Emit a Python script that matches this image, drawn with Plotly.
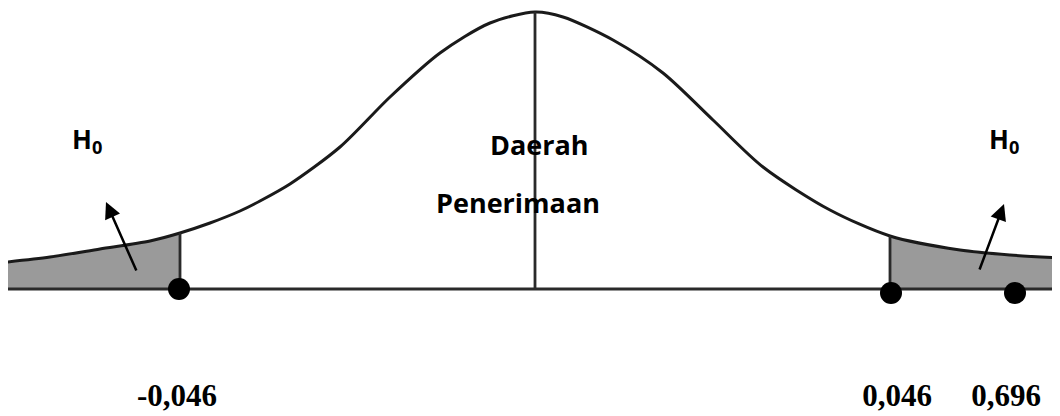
import plotly.graph_objects as go

# curve: horizontal position and height above the baseline
curve_x = [7, 50, 100, 150, 180, 210, 240, 260, 290, 340, 390, 440, 490, 535,
           563, 613, 663, 713, 763, 830, 890, 960, 1010, 1060]
curve_y = [27, 32, 40, 48, 56, 66, 78, 88, 105, 142, 192, 236, 266, 277,
           272, 249, 216, 169, 122, 79, 53, 39, 34, 31]

left_cut = 180
centre = 535
right_cut = 890

point_x = [179, 891, 1015]
point_y = [0, -4, -4]
point_labels = ["-0,046", "0,046", "0,696"]
label_x = [177, 897, 1006]
label_y = -109

h0_x = [87, 1004]
h0_y = 149
arrow_tail = [(137, 17), (979, 18)]
arrow_head = [(106, 87), (1004, 85)]

LINE = "#1a1a1a"
GREY = "#9a9a9a"
PAGE_MARGIN = 8  # default body margin of the html page


def height_at(x):
    return curve_y[curve_x.index(x)]


fig = go.Figure()

left_x = [x for x in curve_x if x <= left_cut]
right_x = [x for x in curve_x if x >= right_cut]
for xs in (left_x, right_x):
    fig.add_trace(go.Scatter(
        x=xs, y=[height_at(x) for x in xs],
        mode="lines", line=dict(width=0, shape="spline"),
        fill="tozeroy", fillcolor=GREY, hoverinfo="skip",
    ))

fig.add_trace(go.Scatter(
    x=curve_x, y=curve_y, mode="lines",
    line=dict(color=LINE, width=3, shape="spline", smoothing=0.8),
))

# baseline
fig.add_trace(go.Scatter(
    x=[curve_x[0], curve_x[-1]], y=[0, 0], mode="lines",
    line=dict(color="#2a2a2a", width=3),
))

# vertical lines at the cut-offs and the centre
for cx in (left_cut, centre, right_cut):
    fig.add_trace(go.Scatter(
        x=[cx, cx], y=[0, height_at(cx)], mode="lines",
        line=dict(color="#2a2a2a", width=2.8),
    ))

fig.add_trace(go.Scatter(
    x=point_x, y=point_y, mode="markers",
    marker=dict(size=22, color="black"),
))

fig.add_trace(go.Scatter(
    x=label_x, y=[label_y] * len(label_x), mode="text",
    text=point_labels,
    textfont=dict(family="Liberation Serif", size=31, color="black", weight="bold"),
))

for hx in h0_x:
    fig.add_annotation(
        x=hx, y=h0_y, text="<b>H<sub>0</sub></b>", showarrow=False,
        font=dict(family="Open Sans", size=26, color="black"),
    )

fig.add_annotation(x=539, y=145, text="<b>Daerah</b>", showarrow=False,
                   font=dict(family="Open Sans", size=27, color="black"))
fig.add_annotation(x=518, y=87, text="<b>Penerimaan</b>", showarrow=False,
                   font=dict(family="Open Sans", size=27, color="black"))

for (tx, ty), (hx, hy) in zip(arrow_tail, arrow_head):
    fig.add_annotation(
        x=hx, y=hy, ax=tx, ay=ty, xref="x", yref="y", axref="x", ayref="y",
        text="", showarrow=True, arrowhead=2, arrowsize=1.3,
        arrowwidth=2.5, arrowcolor="black",
    )

fig.update_layout(
    width=1060, height=416, autosize=False,
    margin=dict(l=0, r=0, t=0, b=0),
    paper_bgcolor="white", plot_bgcolor="white",
    showlegend=False,
)
# shift ranges so the page's body margin doesn't push the drawing off
fig.update_xaxes(range=[PAGE_MARGIN, 1060 + PAGE_MARGIN], visible=False)
fig.update_yaxes(range=[-127 - PAGE_MARGIN, 289 - PAGE_MARGIN], visible=False)

fig.write_html("out.html")
